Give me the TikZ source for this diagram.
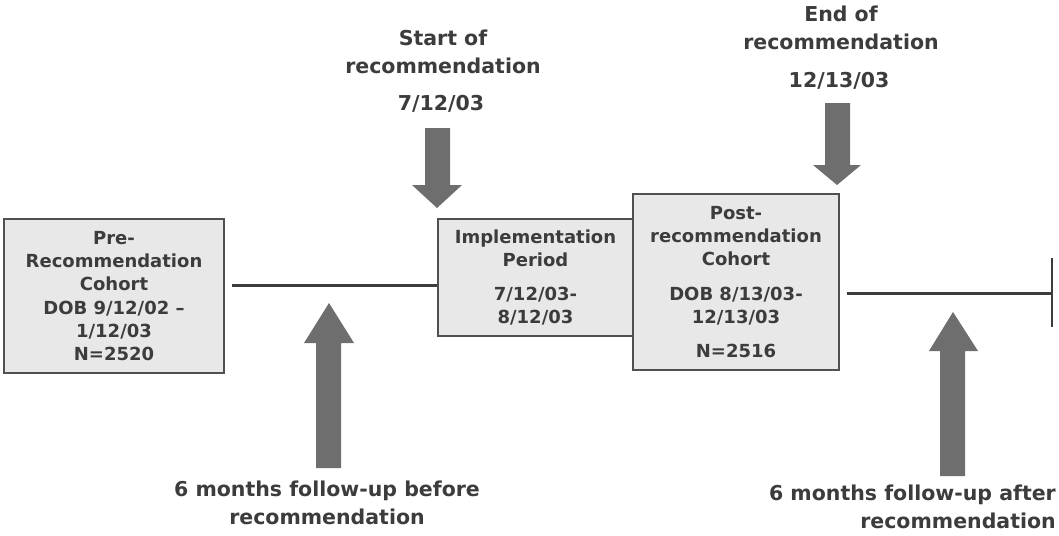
\documentclass[tikz,border=0pt]{standalone}
\usepackage{fontspec}
\setmainfont{DejaVu Sans}
\definecolor{txt}{HTML}{3C3C3C}
\definecolor{boxfill}{HTML}{E8E8E8}
\definecolor{boxline}{HTML}{505050}
\definecolor{arrowfill}{HTML}{6E6E6E}
\begin{document}
\begin{tikzpicture}[x=1pt,y=-1pt,
  box/.style={draw=boxline, line width=2pt, fill=boxfill, inner sep=0pt, anchor=north west,
    align=center, text=txt, font=\fontsize{18}{23.3}\selectfont\bfseries},
  lbl/.style={inner sep=0pt, align=center, text=txt, font=\fontsize{20.5}{28}\selectfont\bfseries},
  tl/.style={draw=txt, line width=3pt},
  blk/.style={fill=arrowfill}
]
\useasboundingbox (0,0) rectangle (1059,535);

% boxes
\node[box, minimum width=220, minimum height=154] (pre) at (3,218)
  {Pre-\\Recommendation\\Cohort\\DOB 9/12/02 –\\1/12/03\\N=2520};
\node[box, minimum width=195, minimum height=117] (impl) at (437,218)
  {Implementation\\Period\\[11pt]7/12/03-\\8/12/03};
\node[box, minimum width=206, minimum height=176] (post) at (632,193)
  {Post-\\recommendation\\Cohort\\[11pt]DOB 8/13/03-\\12/13/03\\[11pt]N=2516};

% timeline segments
\coordinate (l1a) at (232,285);
\draw[tl] (l1a) -- (impl.west |- l1a);
\coordinate (l2a) at (847,293);
\coordinate (l2b) at (1052,293);
\coordinate (tickt) at (1052,258);
\coordinate (tickb) at (1052,327);
\draw[tl] (l2a) -- (l2b);
\draw[draw=txt, line width=1.5pt] (tickt) -- (tickb);

% labels
\node[lbl] (start) at (443,52) {Start of\\recommendation};
\node[lbl] (startd) at (441,104) {7/12/03};
\node[lbl] (end) at (841,28) {End of\\recommendation};
\node[lbl] (endd) at (839,81) {12/13/03};
\node[lbl] (fub) at (327,503) {6 months follow-up before\\recommendation};
\node[lbl, align=right, anchor=east] (fua) at (1056,507) {6 months follow-up after\\recommendation};

% block arrows
\fill[blk] (425,128) -- (450,128) -- (450,185) -- (462,185) -- (437,208) -- (412,185) -- (425,185) -- cycle;
\fill[blk] (825,103) -- (850,103) -- (850,165) -- (861,165) -- (837,185) -- (813,165) -- (825,165) -- cycle;
\fill[blk] (316,468) -- (341,468) -- (341,343) -- (354,343) -- (329,303) -- (304,343) -- (316,343) -- cycle;
\fill[blk] (940,476) -- (965,476) -- (965,351) -- (978,351) -- (953,312) -- (929,351) -- (940,351) -- cycle;
\end{tikzpicture}
\end{document}
